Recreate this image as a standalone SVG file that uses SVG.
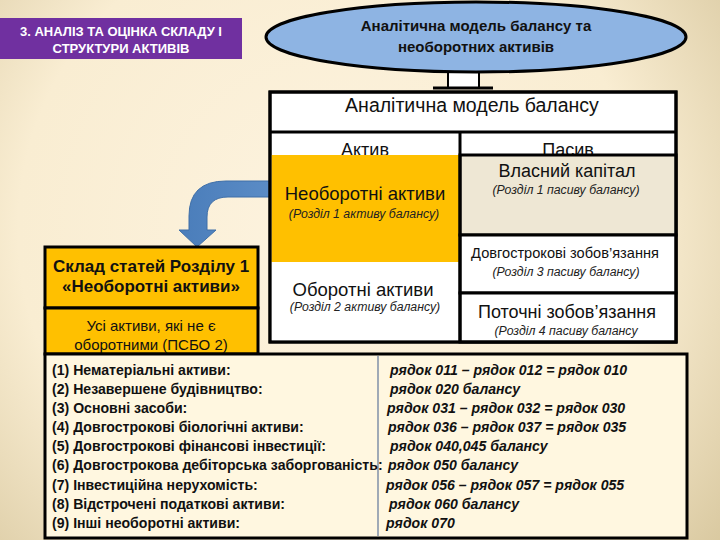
<svg xmlns="http://www.w3.org/2000/svg" width="720" height="540" viewBox="0 0 720 540">
<defs>
<radialGradient id="bg" cx="330" cy="230" r="520" gradientUnits="userSpaceOnUse">
<stop offset="0" stop-color="#FDF3DF"/>
<stop offset="0.6" stop-color="#F9EDD2"/>
<stop offset="1" stop-color="#D6C59B"/>
</radialGradient>
<linearGradient id="arr" x1="0" y1="0" x2="1" y2="0">
<stop offset="0" stop-color="#4A7DBA"/>
<stop offset="1" stop-color="#5B8CC6"/>
</linearGradient>
<style>
.t{font-family:"Liberation Sans",Arial,sans-serif;fill:#111;text-anchor:middle}
.b{font-weight:bold}
.i{font-style:italic;font-size:12.3px;fill:#222}
.box{stroke:#000;stroke-width:3}
.li{font-family:"Liberation Sans",Arial,sans-serif;font-weight:bold;font-size:14.1px;fill:#111}
.ri{font-family:"Liberation Sans",Arial,sans-serif;font-weight:bold;font-style:italic;font-size:14.1px;fill:#111}
</style>
</defs>
<rect width="720" height="540" fill="url(#bg)"/>

<g id="title">
<rect x="0" y="18" width="242" height="41" fill="#7030A0"/>
<text class="t b" x="121" y="36" font-size="13" style="fill:#fff">3. АНАЛІЗ ТА ОЦІНКА СКЛАДУ І</text>
<text class="t b" x="121" y="53" font-size="13" style="fill:#fff">СТРУКТУРИ АКТИВІВ</text>
</g>

<g id="connectors">
<rect x="448" y="70" width="31" height="18" fill="#fff" stroke="#000" stroke-width="2"/>
<line x1="433" y1="88" x2="493" y2="88" stroke="#000" stroke-width="3"/>
<path d="M272,181 L226,181 Q189,181 189,216 L189,230 L179,230 L197,247 L216,230 L207,230 L207,217 Q207,197 228,197 L272,197 Z" fill="url(#arr)" stroke="#3F6FA8" stroke-width="1"/>
</g>

<g id="ellipse">
<ellipse cx="476" cy="37" rx="210" ry="35" fill="#8EB4E3" stroke="#000" stroke-width="3"/>
<text class="t b" x="476" y="31" font-size="15">Аналітична модель балансу та</text>
<text class="t b" x="476" y="52" font-size="15">необоротних активів</text>
</g>

<g id="table">
<rect x="270" y="92" width="406" height="250" fill="#fff" class="box"/>
<text class="t" x="472" y="112" font-size="19.5">Аналітична модель балансу</text>
<line x1="270" y1="132" x2="676" y2="132" stroke="#000" stroke-width="3"/>
<text class="t" x="365" y="156" font-size="18">Актив</text>
<text class="t" x="568" y="156" font-size="18">Пасив</text>
</g>

<g id="neoborotni">
<rect x="271.5" y="155" width="188.5" height="107" fill="#FFC000" stroke="none"/>
<text class="t" x="365" y="200" font-size="18.5">Необоротні активи</text>
<text class="t i" x="364" y="218">(Розділ 1 активу балансу)</text>
</g>

<g id="oborotni">
<rect x="271.5" y="262" width="188.5" height="78.5" fill="#fff"/>
<text class="t" x="363" y="296" font-size="18.5">Оборотні активи</text>
<text class="t i" x="365" y="311">(Розділ 2 активу балансу)</text>
</g>

<g id="vlasnyi">
<rect x="460" y="155" width="216" height="80" fill="#EEE7D4" class="box"/>
<text class="t" x="567" y="177" font-size="18">Власний капітал</text>
<text class="t i" x="566" y="194">(Розділ 1 пасиву балансу)</text>
</g>

<g id="dovgostrokovi">
<rect x="460" y="235" width="216" height="58" fill="#fff" class="box"/>
<text class="t" x="565" y="258" font-size="14.6">Довгострокові зобов’язання</text>
<text class="t i" x="566" y="276">(Розділ 3 пасиву балансу)</text>
</g>

<g id="potochni">
<rect x="460" y="293" width="216" height="49" fill="#fff" class="box"/>
<text class="t" x="567" y="318" font-size="18">Поточні зобов’язання</text>
<text class="t i" x="566" y="335">(Розділ 4 пасиву балансу</text>
</g>

<g id="table-frame">
<rect x="270" y="92" width="406" height="250" fill="none" class="box"/>
<line x1="460" y1="132" x2="460" y2="342" stroke="#000" stroke-width="3"/>
</g>

<g id="sklad">
<rect x="45" y="247" width="213" height="61" fill="#FFC000" class="box"/>
<text class="t b" x="151" y="272" font-size="17">Склад статей Розділу 1</text>
<text class="t b" x="151" y="292" font-size="17">«Необоротні активи»</text>
</g>

<g id="usi">
<rect x="45" y="308" width="213" height="46" fill="#FFC000" class="box"/>
<text class="t" x="151" y="331" font-size="15">Усі активи, які не є</text>
<text class="t" x="151" y="350" font-size="15">оборотними (ПСБО 2)</text>
</g>

<g id="list">
<rect x="45" y="354" width="642" height="184" fill="#FFF7E0" class="box"/>
<line x1="378" y1="356" x2="378" y2="536" stroke="#8090A8" stroke-width="1.5"/>
<text class="li" x="52" y="375">(1) Нематеріальні активи:</text>
<text class="li" x="52" y="394">(2) Незавершене будівництво:</text>
<text class="li" x="52" y="413">(3) Основні засоби:</text>
<text class="li" x="52" y="432">(4) Довгострокові біологічні активи:</text>
<text class="li" x="52" y="451">(5) Довгострокові фінансові інвестиції:</text>
<text class="li" x="52" y="470">(6) Довгострокова дебіторська заборгованість:</text>
<text class="li" x="52" y="490">(7) Інвестиційна нерухомість:</text>
<text class="li" x="52" y="509">(8) Відстрочені податкові активи:</text>
<text class="li" x="52" y="528">(9) Інші необоротні активи:</text>
<text class="ri" x="390" y="375">рядок 011 – рядок 012 = рядок 010</text>
<text class="ri" x="390" y="394">рядок 020 балансу</text>
<text class="ri" x="387" y="413">рядок 031 – рядок 032 = рядок 030</text>
<text class="ri" x="388" y="432">рядок 036 – рядок 037 = рядок 035</text>
<text class="ri" x="390" y="451">рядок 040,045 балансу</text>
<text class="ri" x="388" y="470">рядок 050 балансу</text>
<text class="ri" x="386" y="490">рядок 056 – рядок 057 = рядок 055</text>
<text class="ri" x="389" y="509">рядок 060 балансу</text>
<text class="ri" x="386" y="528">рядок 070</text>
</g>
</svg>
